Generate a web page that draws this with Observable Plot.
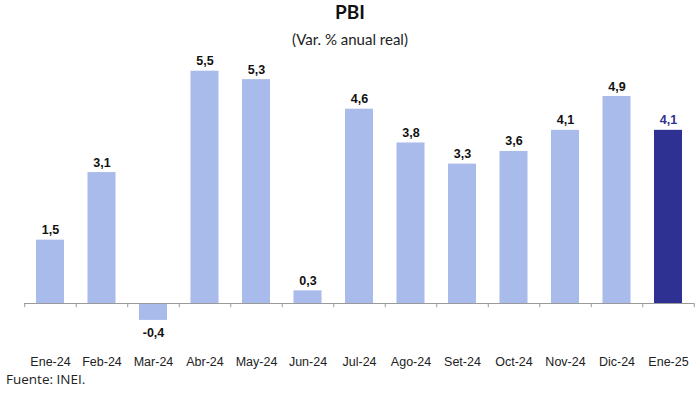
<!DOCTYPE html>
<html>
<head>
<meta charset="utf-8">
<script src="https://cdn.jsdelivr.net/npm/d3@7"></script>
<script src="https://cdn.jsdelivr.net/npm/@observablehq/plot@0.6"></script>
<style>
  body { margin: 0; background: #fff; width: 700px; height: 395px; overflow: hidden; }
  .title { height: 30px; line-height: 32px; text-align: center; font: bold 19px Lato, "Open Sans", sans-serif; color: #111; }
  .subtitle { height: 22px; line-height: 22px; text-align: center; font: 15px Lato, "Open Sans", sans-serif; color: #222; }
  .caption { height: 22px; line-height: 22px; padding-left: 6px; font: 13.5px "Open Sans", sans-serif; color: #222; }
  svg { display: block; }
</style>
</head>
<body>
<div class="title">PBI</div>
<div class="subtitle">(Var. % anual real)</div>
<div id="chart"></div>
<div class="caption">Fuente: INEI.</div>
<script>
const months = ["Ene-24","Feb-24","Mar-24","Abr-24","May-24","Jun-24","Jul-24","Ago-24","Set-24","Oct-24","Nov-24","Dic-24","Ene-25"];
const values = [1.5, 3.1, -0.4, 5.5, 5.3, 0.3, 4.6, 3.8, 3.3, 3.6, 4.1, 4.9, 4.1];
const highlight = ["Ene-25"];

const data = months.map((m, i) => ({month: m, value: values[i], hi: highlight.includes(m)}));
const fmt = v => v.toFixed(1).replace(".", ",");

const W = 700, H = 318;
const mL = 24.25, mR = 6.25;
const step = (W - mL - mR) / months.length;
const light = "#a9bbea", dark = "#2e3192";
const lab = "'Liberation Sans', Arial, sans-serif";

const chart = Plot.plot({
  width: W,
  height: H,
  marginLeft: mL,
  marginRight: mR,
  marginTop: 18.7,
  marginBottom: 24.75,
  x: {domain: months, paddingInner: 0.456, paddingOuter: 0.228, round: false, axis: null},
  y: {domain: [-1, 5.5], axis: null},
  marks: [
    Plot.barY(data, {x: "month", y: "value", fill: d => d.hi ? dark : light}),
    Plot.ruleY([0], {stroke: "#9a9a9a", strokeWidth: 1}),
    Plot.ruleX(data, {x: "month", dx: -step / 2, y1: 0, y2: -0.1, stroke: "#9a9a9a"}),
    Plot.ruleX(data.slice(-1), {x: "month", dx: step / 2, y1: 0, y2: -0.1, stroke: "#9a9a9a"}),
    Plot.text(data.filter(d => d.value >= 0), {x: "month", y: "value", text: d => fmt(d.value), lineAnchor: "bottom", dy: -6,
      fill: d => d.hi ? dark : "#111", fontWeight: "bold", fontSize: 12.5, fontFamily: lab}),
    Plot.text(data.filter(d => d.value < 0), {x: "month", y: "value", text: d => fmt(d.value), lineAnchor: "top", dy: 8,
      fill: "#111", fontWeight: "bold", fontSize: 12.5, fontFamily: lab}),
    Plot.text(data, {x: "month", frameAnchor: "bottom", dy: 16, text: "month", lineAnchor: "middle",
      fill: "#222", fontSize: 12.5, fontFamily: lab})
  ]
});
document.getElementById("chart").append(chart);
</script>
</body>
</html>
